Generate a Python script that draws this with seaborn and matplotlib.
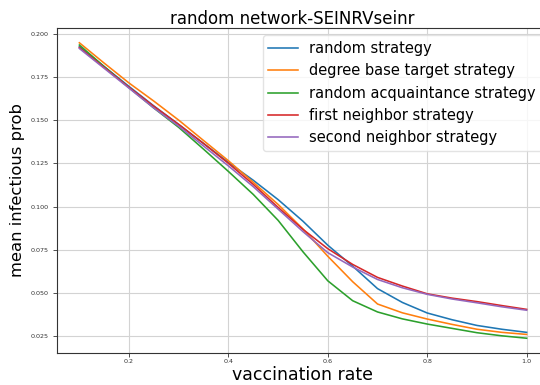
import matplotlib
matplotlib.use("Agg")
import matplotlib.pyplot as plt
import seaborn as sns
import pandas as pd

vaccination_rate = [0.10, 0.15, 0.20, 0.25, 0.30, 0.35, 0.40, 0.45, 0.50, 0.55,
                    0.60, 0.65, 0.70, 0.75, 0.80, 0.85, 0.90, 0.95, 1.00]

random_strategy = [0.1925, 0.1810, 0.1695, 0.1582, 0.1475, 0.1365, 0.1255, 0.1152, 0.1040, 0.0915,
                   0.0776, 0.0655, 0.0525, 0.0445, 0.0384, 0.0345, 0.0312, 0.0290, 0.0272]
degree_strategy = [0.1948, 0.1830, 0.1715, 0.1610, 0.1500, 0.1382, 0.1265, 0.1140, 0.1012, 0.0870,
                   0.0712, 0.0565, 0.0436, 0.0385, 0.0349, 0.0318, 0.0290, 0.0272, 0.0260]
acquaintance_strategy = [0.1935, 0.1810, 0.1688, 0.1570, 0.1458, 0.1332, 0.1203, 0.1070, 0.0920, 0.0738,
                         0.0570, 0.0455, 0.0390, 0.0350, 0.0320, 0.0295, 0.0270, 0.0252, 0.0238]
first_neighbor_strategy = [0.1920, 0.1805, 0.1690, 0.1580, 0.1475, 0.1365, 0.1250, 0.1128, 0.0995, 0.0868,
                           0.0756, 0.0665, 0.0590, 0.0540, 0.0495, 0.0470, 0.0450, 0.0427, 0.0405]
second_neighbor_strategy = [0.1915, 0.1800, 0.1685, 0.1570, 0.1465, 0.1350, 0.1235, 0.1115, 0.0985, 0.0855,
                            0.0733, 0.0650, 0.0578, 0.0530, 0.0492, 0.0465, 0.0443, 0.0420, 0.0400]

series_labels = ["random strategy", "degree base target strategy", "random acquaintance strategy",
                 "first neighbor strategy", "second neighbor strategy"]
series_values = [random_strategy, degree_strategy, acquaintance_strategy,
                 first_neighbor_strategy, second_neighbor_strategy]

title_text = "random network-SEINRVseinr"
x_label = "vaccination rate"
y_label = "mean infectious prob"
y_tick_values = [0.025, 0.050, 0.075, 0.100, 0.125, 0.150, 0.175, 0.200]
y_tick_labels = ["0.025", "0.050", "0.075", "0.100", "0.125", "0.150", "0.175", "0.200"]
x_tick_values = [0.2, 0.4, 0.6, 0.8, 1.0]

plt.rcParams['font.family'] = ['DejaVu Sans']

fig = plt.figure(figsize=(5.4, 3.85), dpi=100)
ax = fig.add_axes([57 / 540, 32 / 385, 492 / 540, 325 / 385])

colors = sns.color_palette("tab10", 5)
for lab, vals, col in zip(series_labels, series_values, colors):
    df = pd.DataFrame({"x": vaccination_rate, "y": vals})
    sns.lineplot(data=df, x="x", y="y", ax=ax, label=lab, color=col, linewidth=1.15)

ax.grid(True, color="#d3d3d3", linewidth=0.8)
ax.set_axisbelow(True)
ax.set_xticks(x_tick_values)
ax.set_yticks(y_tick_values)
ax.set_yticklabels(y_tick_labels)
ax.tick_params(axis="both", labelsize=4.6, length=3, width=0.6, pad=3, colors="#333333")
ax.tick_params(axis="x", pad=1.5)
for s in ax.spines.values():
    s.set_color("#333333")
ax.set_title(title_text, fontsize=12, pad=2, x=0.478)
ax.set_xlabel(x_label, fontsize=12.5, labelpad=1)
ax.set_ylabel(y_label, fontsize=11.8, labelpad=4)
leg = ax.legend(loc="upper right", fontsize=10.5, framealpha=0.8)
leg.get_frame().set_edgecolor("#dddddd")

fig.savefig("out.png", dpi=100)
